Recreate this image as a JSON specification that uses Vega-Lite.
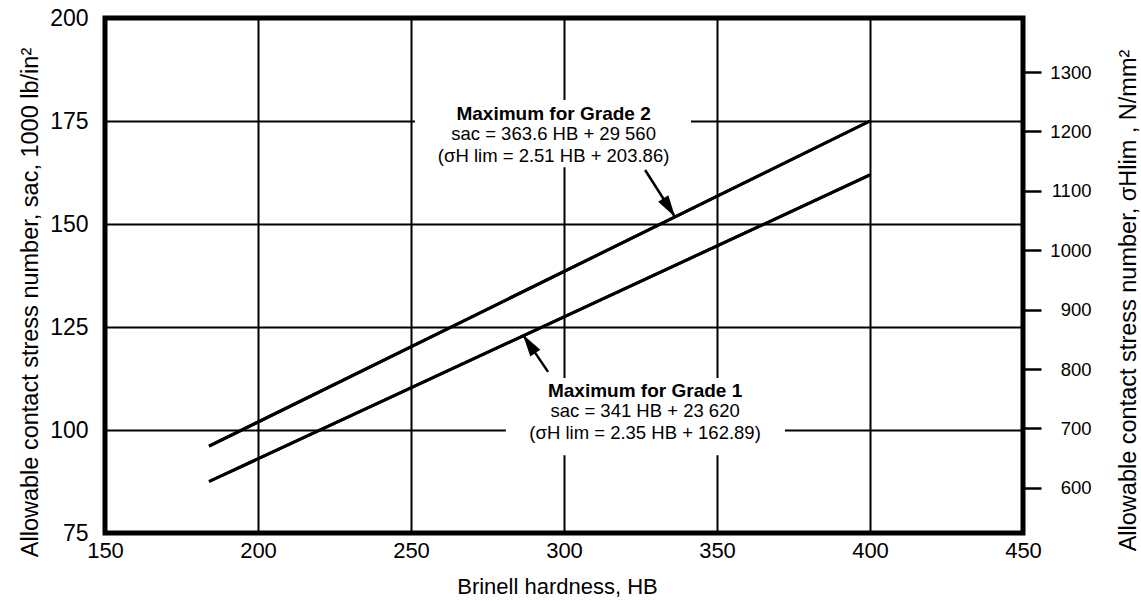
{
  "$schema": "https://vega.github.io/schema/vega-lite/v6.json",
  "width": 918,
  "height": 515,
  "autosize": "none",
  "padding": {"left": 105, "top": 18, "right": 118, "bottom": 68},
  "background": "white",
  "config": {
    "font": "Liberation Sans",
    "view": {"stroke": "black", "strokeWidth": 5},
    "axis": {"labelColor": "black", "titleColor": "black", "titleFontWeight": "normal", "domain": false, "gridColor": "black", "gridOpacity": 1, "gridWidth": 2}
  },
  "datasets": {
    "lines": [
      {"grade": "Grade 2", "hb": 184, "s": 96.1},
      {"grade": "Grade 2", "hb": 400, "s": 175},
      {"grade": "Grade 1", "hb": 184, "s": 87.5},
      {"grade": "Grade 1", "hb": 400, "s": 161.9}
    ],
    "boxes": [
      {"grade": "Grade 2", "hb": 251.3, "hb2": 341.5, "s": 163.8, "s2": 180.1},
      {"grade": "Grade 1", "hb": 281, "hb2": 372.2, "s": 93.9, "s2": 112.6}
    ],
    "arrows": [
      {"grade": "Grade 2", "hb": 326.5, "s": 163.1, "hb2": 336.3, "s2": 151.7},
      {"grade": "Grade 1", "hb": 294.8, "s": 114.1, "hb2": 286.6, "s2": 123.1}
    ],
    "labels": [
      {"grade": "Grade 2", "kind": "head", "hb": 296.6, "s": 175.2, "text": "Maximum for Grade 2"},
      {"grade": "Grade 2", "kind": "eq", "hb": 296.6, "s": 170.4, "text": "sac = 363.6 HB + 29 560"},
      {"grade": "Grade 2", "kind": "eq", "hb": 296.6, "s": 165.0, "text": "(σH lim = 2.51 HB + 203.86)"},
      {"grade": "Grade 1", "kind": "head", "hb": 326.5, "s": 107.9, "text": "Maximum for Grade 1"},
      {"grade": "Grade 1", "kind": "eq", "hb": 326.5, "s": 103.2, "text": "sac = 341 HB + 23 620"},
      {"grade": "Grade 1", "kind": "eq", "hb": 326.5, "s": 97.8, "text": "(σH lim = 2.35 HB + 162.89)"}
    ],
    "mpa": [{"mpa": 600}, {"mpa": 1300}]
  },
  "layer": [
    {
      "layer": [
        {
          "data": {"name": "lines"},
          "mark": {"type": "line", "color": "black", "strokeWidth": 3},
          "encoding": {
            "x": {"field": "hb", "type": "quantitative", "scale": {"domain": [150, 450], "nice": false, "zero": false},
              "axis": {"orient": "bottom", "values": [150, 200, 250, 300, 350, 400, 450], "grid": true, "ticks": false, "labelFontSize": 22, "labelPadding": 7, "labelFlush": false,
                "title": "Brinell hardness, HB", "titleFontSize": 22, "titleX": 452, "titleY": 60, "titleAlign": "center", "titleBaseline": "alphabetic", "titleAnchor": null}},
            "y": {"field": "s", "type": "quantitative", "scale": {"domain": [75, 200], "nice": false, "zero": false},
              "axis": {"orient": "left", "values": [75, 100, 125, 150, 175, 200], "grid": true, "ticks": false, "labelFontSize": 23, "labelPadding": 17, "labelFlush": false,
                "title": "Allowable contact stress number, sac, 1000 lb/in²", "titleFontSize": 23.5, "titleAngle": 270, "titleX": -68, "titleY": 284, "titleAlign": "center", "titleBaseline": "alphabetic", "titleAnchor": null}},
            "detail": {"field": "grade"}
          }
        },
        {
          "data": {"name": "boxes"},
          "mark": {"type": "rect", "color": "white"},
          "encoding": {
            "x": {"field": "hb", "type": "quantitative", "scale": {"domain": [150, 450], "nice": false, "zero": false}},
            "x2": {"field": "hb2"},
            "y": {"field": "s", "type": "quantitative", "scale": {"domain": [75, 200], "nice": false, "zero": false}},
            "y2": {"field": "s2"}
          }
        },
        {
          "data": {"name": "lines"},
          "mark": {"type": "line", "color": "black", "strokeWidth": 3},
          "encoding": {
            "x": {"field": "hb", "type": "quantitative", "scale": {"domain": [150, 450], "nice": false, "zero": false}},
            "y": {"field": "s", "type": "quantitative", "scale": {"domain": [75, 200], "nice": false, "zero": false}},
            "detail": {"field": "grade"}
          }
        },
        {
          "data": {"name": "arrows"},
          "mark": {"type": "rule", "color": "black", "strokeWidth": 2.5},
          "encoding": {
            "x": {"field": "hb", "type": "quantitative", "scale": {"domain": [150, 450], "nice": false, "zero": false}},
            "x2": {"field": "hb2"},
            "y": {"field": "s", "type": "quantitative", "scale": {"domain": [75, 200], "nice": false, "zero": false}},
            "y2": {"field": "s2"}
          }
        },
        {
          "data": {"name": "arrows"},
          "transform": [{"filter": "datum.grade === 'Grade 2'"}],
          "mark": {"type": "point", "shape": "M0,0L-0.55,2L0.55,2Z", "filled": true, "color": "black", "opacity": 1, "size": 484, "angle": 147.5},
          "encoding": {
            "x": {"field": "hb2", "type": "quantitative", "scale": {"domain": [150, 450], "nice": false, "zero": false}},
            "y": {"field": "s2", "type": "quantitative", "scale": {"domain": [75, 200], "nice": false, "zero": false}}
          }
        },
        {
          "data": {"name": "arrows"},
          "transform": [{"filter": "datum.grade === 'Grade 1'"}],
          "mark": {"type": "point", "shape": "M0,0L-0.55,2L0.55,2Z", "filled": true, "color": "black", "opacity": 1, "size": 484, "angle": 326},
          "encoding": {
            "x": {"field": "hb2", "type": "quantitative", "scale": {"domain": [150, 450], "nice": false, "zero": false}},
            "y": {"field": "s2", "type": "quantitative", "scale": {"domain": [75, 200], "nice": false, "zero": false}}
          }
        },
        {
          "data": {"name": "labels"},
          "transform": [{"filter": "datum.kind === 'head'"}],
          "mark": {"type": "text", "color": "black", "fontSize": 19, "fontWeight": "bold", "align": "center", "baseline": "alphabetic"},
          "encoding": {
            "x": {"field": "hb", "type": "quantitative", "scale": {"domain": [150, 450], "nice": false, "zero": false}},
            "y": {"field": "s", "type": "quantitative", "scale": {"domain": [75, 200], "nice": false, "zero": false}},
            "text": {"field": "text"}
          }
        },
        {
          "data": {"name": "labels"},
          "transform": [{"filter": "datum.kind === 'eq'"}],
          "mark": {"type": "text", "color": "black", "fontSize": 18.5, "align": "center", "baseline": "alphabetic"},
          "encoding": {
            "x": {"field": "hb", "type": "quantitative", "scale": {"domain": [150, 450], "nice": false, "zero": false}},
            "y": {"field": "s", "type": "quantitative", "scale": {"domain": [75, 200], "nice": false, "zero": false}},
            "text": {"field": "text"}
          }
        }
      ]
    },
    {
      "data": {"name": "mpa"},
      "mark": {"type": "point", "opacity": 0},
      "encoding": {
        "y": {"field": "mpa", "type": "quantitative", "scale": {"domain": [524, 1391], "nice": false, "zero": false},
          "axis": {"orient": "right", "values": [600, 700, 800, 900, 1000, 1100, 1200, 1300], "format": "d", "grid": false, "ticks": true, "tickSize": 18, "tickWidth": 2.5, "tickColor": "black",
            "labelAlign": "right", "labelPadding": 50, "labelFontSize": 18.5, "labelFlush": false,
            "title": "Allowable contact stress number, σHlim , N/mm²", "titleFontSize": 23.5, "titleAngle": 270, "titleX": 112, "titleY": 282, "titleAlign": "center", "titleBaseline": "alphabetic", "titleAnchor": null}}
      }
    }
  ],
  "resolve": {"scale": {"y": "independent"}}
}
